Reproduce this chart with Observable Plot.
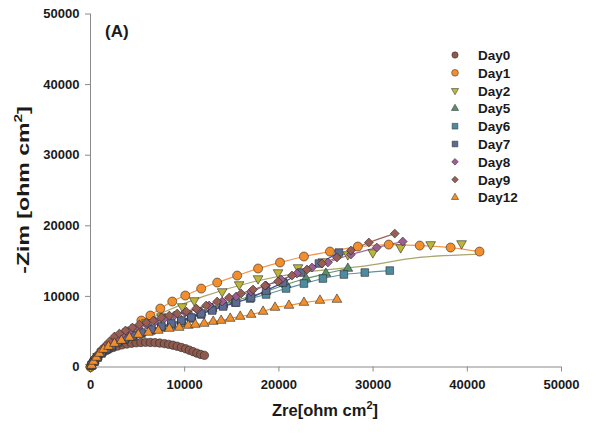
<!DOCTYPE html>
<html><head><meta charset="utf-8">
<script src="https://cdn.jsdelivr.net/npm/d3@7"></script>
<script src="https://cdn.jsdelivr.net/npm/@observablehq/plot@0.6"></script>
<style>
html,body{margin:0;padding:0;background:#fff;overflow:hidden;font-family:"Liberation Sans",Arial,sans-serif}
#wrap{position:relative;width:604px;height:438px}
#wrap svg{display:block}
</style></head><body><div id="wrap"></div>
<script>
const xTicks = [0, 10000, 20000, 30000, 40000, 50000];
const yTicks = [0, 10000, 20000, 30000, 40000, 50000];
const days = ["Day0","Day1","Day2","Day5","Day6","Day7","Day8","Day9","Day12"];

const day0 = [[0,0],[100,350],[200,650],[350,950],[550,1250],[800,1550],[1050,1850],[1350,2100],[1700,2350],[2050,2580],[2450,2780],[2900,2980],[3350,3130],[3850,3260],[4350,3360],[4850,3430],[5350,3470],[5850,3490],[6350,3480],[6850,3450],[7350,3390],[7850,3310],[8300,3210],[8750,3090],[9200,2940],[9650,2770],[10100,2580],[10500,2380],[10900,2170],[11300,1960],[11700,1780],[12100,1650]];
const day1 = [[0,0],[420,920],[850,1630],[1690,2620],[2330,3470],[3070,4040],[4020,5030],[5400,6580],[6350,7290],[7410,8280],[8680,9270],[10060,10120],[11750,11110],[13450,11960],[15570,12950],[17790,13950],[20120,14800],[22660,15650],[25420,16350],[28380,17060],[31660,17340],[34950,17200],[38230,16920],[41300,16350]];
const day2 = [[0,0],[740,1490],[1480,2340],[2220,3330],[3070,4180],[3920,5030],[4770,5590],[5930,6300],[7520,7150],[9740,8570],[11010,9420],[13980,10690],[15780,11680],[17790,12530],[19910,13380],[22030,14090],[24670,14940],[27320,15930],[29970,16210],[32930,16920],[36110,17350],[39390,17490]];
const day2Fit = [[0,0],[500,1200],[1500,2800],[3000,4300],[5000,5900],[8000,7900],[12000,10000],[17000,11970],[22000,13300],[29400,14370],[34700,15500],[41700,16000]];
const day5 = [[110,210],[420,920],[740,1490],[1160,2050],[1690,2620],[2220,3040],[2860,3610],[3600,4040],[4450,4460],[5400,4890],[6460,5310],[7520,5730],[8580,6160],[9640,6580],[10700,7150],[11750,7720],[12920,8280],[14080,8850],[15360,9420],[16940,9980],[18640,10690],[20760,11680],[22870,12530],[24990,13240],[27320,13950]];
const day6 = [[110,210],[420,780],[740,1350],[1160,1910],[1690,2480],[2220,2900],[2860,3470],[3600,3890],[4450,4320],[5400,4740],[6460,5170],[7520,5590],[8580,5880],[9640,6300],[10700,6870],[11750,7430],[12920,8140],[14080,8710],[15360,9130],[16940,9700],[18640,10270],[20760,11120],[22660,11820],[24670,12530],[26900,13100],[29120,13380],[31770,13660]];
const day7 = [[110,210],[420,780],[740,1350],[1160,2050],[1690,2620],[2220,3040],[2860,3610],[3600,4040],[4450,4460],[5400,4890],[6460,5310],[7520,5730],[8580,6160],[9640,6580],[10700,7010],[11750,7580],[12920,8000],[14080,8570],[15460,9130],[17050,9840],[18640,10830],[20440,11960],[22340,13380],[24250,14660],[26370,16210]];
const day8 = [[110,210],[420,920],[740,1630],[1160,2340],[1690,3040],[2220,3610],[2860,4180],[3490,4740],[4240,5170],[5080,5590],[5930,6020],[6880,6440],[7840,6870],[8900,7290],[10060,7720],[11330,8140],[12600,8710],[13980,9270],[15460,9980],[17050,10690],[18640,11540],[20230,12390],[21920,13240],[23510,14090],[25200,14800],[27640,15930],[30390,16920],[33150,17770]];
const day9 = [[110,210],[320,780],[530,1350],[850,1910],[1160,2480],[1590,3040],[2010,3610],[2540,4320],[3070,4740],[3710,5170],[4450,5590],[5190,6020],[5930,6300],[6670,6580],[7520,7010],[8370,7290],[9210,7580],[10170,7860],[11230,8280],[12280,8710],[13450,9270],[14720,9840],[15990,10410],[17260,10970],[18530,11540],[19910,12110],[21390,12960],[22980,13810],[24570,14660],[26160,15510],[27640,16500],[29550,17630],[32300,18900]];
const day12 = [[110,210],[320,780],[640,1350],[950,1910],[1380,2480],[1910,2900],[2540,3330],[3280,3750],[4130,4180],[5080,4600],[6140,4890],[7200,5170],[8370,5450],[9420,5590],[10380,5880],[11120,6020],[12070,6160],[13030,6440],[13870,6580],[14830,6870],[15890,7150],[17050,7430],[18320,7860],[19590,8430],[21070,8710],[22660,9130],[24360,9420],[26160,9560]];

const series = [
  {name:"Day0", pts:day0, fit:day0, symbol:"circle", rotate:0, r:4.2, fill:"#8d5a4d", line:"#2b2220"},
  {name:"Day1", pts:day1, fit:day1, symbol:"circle", rotate:0, r:4.5, fill:"#f28e2b", line:"#f39650"},
  {name:"Day2", pts:day2, fit:day2Fit, symbol:"triangle", rotate:180, r:3.6, fill:"#bdb53a", line:"#aaa56c"},
  {name:"Day5", pts:day5, fit:day5, symbol:"triangle", rotate:0, r:3.6, fill:"#5a8f6a", line:"#5f9470"},
  {name:"Day6", pts:day6, fit:day6, symbol:"square", rotate:0, r:4.3, fill:"#4d8ca0", line:"#5b93a6"},
  {name:"Day7", pts:day7, fit:day7, symbol:"square", rotate:0, r:4.3, fill:"#5d6b92", line:"#4c46a0"},
  {name:"Day8", pts:day8, fit:day8, symbol:"diamond2", rotate:0, r:4.0, fill:"#9a5e93", line:"#a06fa0"},
  {name:"Day9", pts:day9, fit:day9, symbol:"diamond2", rotate:0, r:4.0, fill:"#985d53", line:"#9b6157"},
  {name:"Day12", pts:day12, fit:day12, symbol:"triangle", rotate:0, r:3.6, fill:"#f28e2b", line:"#f28e2b"}
];

const marks = [
  Plot.ruleX([0], {stroke:"#8a8a8a"}),
  Plot.ruleY([0], {stroke:"#8a8a8a"}),
  Plot.axisX({ticks:xTicks, tickSize:5, tickPadding:8, tickFormat:d3.format("d"), label:null, stroke:"#8a8a8a", fill:"#1a1a1a"}),
  Plot.axisY({ticks:yTicks, tickSize:5, tickPadding:6, tickFormat:d3.format("d"), label:null, stroke:"#8a8a8a", fill:"#1a1a1a"})
];
for (const s of series) {
  marks.push(Plot.line(s.fit, {x:d=>d[0], y:d=>d[1], stroke:s.line, strokeWidth:1.2, curve:"catmull-rom"}));
}
for (const s of series) {
  marks.push(Plot.dot(s.pts, {x:d=>d[0], y:d=>d[1], symbol:s.symbol, rotate:s.rotate, r:s.r, fill:s.fill, stroke:"#2a2a2a", strokeWidth:0.6}));
}

const chart = Plot.plot({
  width:604, height:438,
  marginLeft:90, marginRight:43, marginTop:13.5, marginBottom:71.5,
  x:{domain:[0,50000]}, y:{domain:[0,50000]},
  style:{fontFamily:"'Liberation Sans', Arial, sans-serif", fontSize:"13px", fontWeight:"bold", background:"#fff", overflow:"visible"},
  marks
});
document.getElementById("wrap").appendChild(chart);

const svg = d3.select(chart);
const bold = "'Liberation Sans', Arial, sans-serif";
// axis titles
const xl = svg.append("text").attr("x", 325).attr("y", 416).attr("text-anchor","middle")
  .attr("font-size",16.5).attr("font-weight","bold").attr("fill","#1a1a1a").attr("font-family",bold);
xl.append("tspan").text("Zre[ohm cm");
xl.append("tspan").attr("font-size",11).attr("dy",-7).text("2");
xl.append("tspan").attr("dy",7).text("]");
const yl = svg.append("text").attr("transform","translate(29,190) rotate(-90) scale(1.4,1)").attr("text-anchor","middle")
  .attr("font-size",16.5).attr("font-weight","bold").attr("fill","#1a1a1a").attr("font-family",bold);
yl.append("tspan").text("-Zim [ohm cm");
yl.append("tspan").attr("font-size",11).attr("dy",-7).text("2");
yl.append("tspan").attr("dy",7).text("]");
svg.append("text").attr("x",105).attr("y",37).attr("text-anchor","start").attr("font-size",17).attr("font-weight","bold")
  .attr("fill","#1a1a1a").attr("font-family",bold).text("(A)");

// legend
const symMap = {circle:d3.symbolCircle, triangle:d3.symbolTriangle, square:d3.symbolSquare, diamond2:d3.symbolDiamond2};
const lg = svg.append("g");
series.forEach((s,i)=>{
  const y = 55 + i*17.8;
  const sz = Math.PI * (s.r*0.75)**2;
  lg.append("path").attr("d", d3.symbol(symMap[s.symbol], sz)())
    .attr("transform",`translate(455,${y}) rotate(${s.rotate})`)
    .attr("fill", s.fill).attr("stroke","#2a2a2a").attr("stroke-width",0.5);
  lg.append("text").attr("x",478).attr("y",y+5).attr("text-anchor","start").attr("font-size",13.5).attr("font-weight","bold")
    .attr("fill","#1a1a1a").attr("font-family",bold).text(s.name);
});
</script></body></html>
